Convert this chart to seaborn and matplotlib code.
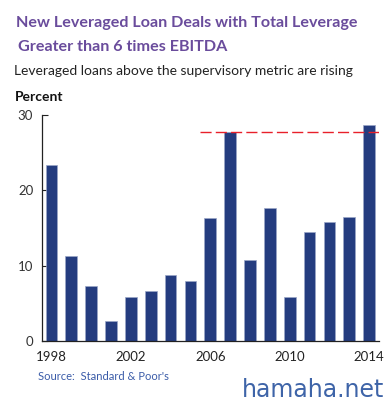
import seaborn as sns
import pandas as pd
import numpy as np
import matplotlib.pyplot as plt

sns.set_theme(style="white")
plt.rcParams['font.family'] = ['Lato', 'DejaVu Sans']

years = [str(y) for y in range(1998, 2015)]
pct = [23.3, 11.3, 7.3, 2.7, 5.9, 6.7, 8.8, 8.0, 16.3, 27.7, 10.7, 17.7, 5.8, 14.4, 15.8, 16.4, 28.6]
tick_years = ["1998", "2002", "2006", "2010", "2014"]
threshold = 27.7

df = pd.DataFrame({"year": years, "pct": pct})

fig = plt.figure(figsize=(3.92, 4.01), dpi=100)
ax = fig.add_axes([0.106, 0.149, 0.861, 0.565])

sns.barplot(data=df, x="year", y="pct", color="#243c7f", saturation=1,
            width=0.59, edgecolor="#9aa6c8", linewidth=0.5, ax=ax)

ax.hlines(threshold, 7.5, 16.5, colors="#e8202a", linewidth=1.0,
          linestyles=(0, (8, 3)), zorder=5)

ax.set_xlim(-0.5, 16.5)
ax.set_ylim(0, 30)
ax.set_yticks([0, 10, 20, 30])
ax.set_xticks([years.index(t) for t in tick_years])
ax.set_xticklabels(tick_years)
ax.set_xticks(np.arange(-0.5, 16.6, 1), minor=True)
ax.tick_params(axis="x", which="major", length=0, pad=7, labelsize=9.5, labelcolor="#222222")
ax.tick_params(axis="x", which="minor", length=4, width=0.8, direction="out", color="#222222")
ax.tick_params(axis="y", length=4, width=0.8, direction="in", pad=6, labelsize=9.5,
               labelcolor="#333333", color="#222222", left=True)
ax.set_xlabel("")
ax.set_ylabel("")
for s in ["top", "right"]:
    ax.spines[s].set_visible(False)
for s in ["left", "bottom"]:
    ax.spines[s].set_color("#222222")
    ax.spines[s].set_linewidth(0.9)

fig.text(0.04, 0.942, "New Leveraged Loan Deals with Total Leverage", fontsize=11.6,
         fontweight="bold", color="#6a4c9c", va="center")
fig.text(0.045, 0.884, "Greater than 6 times EBITDA", fontsize=11.6,
         fontweight="bold", color="#6a4c9c", va="center")
fig.text(0.036, 0.823, "Leveraged loans above the supervisory metric are rising",
         fontsize=10, color="#222222", va="center")
fig.text(0.038, 0.758, "Percent", fontsize=10, fontweight="bold", color="#111111", va="center")
fig.text(0.097, 0.06, "Source:  Standard & Poor's", fontsize=8, color="#3a5ba8", va="center")
fig.text(0.98, 0.027, "hamaha.net", fontsize=17, color="#3e64a8", ha="right", va="center",
         family="DejaVu Sans")

fig.savefig("out.png", dpi=100)
